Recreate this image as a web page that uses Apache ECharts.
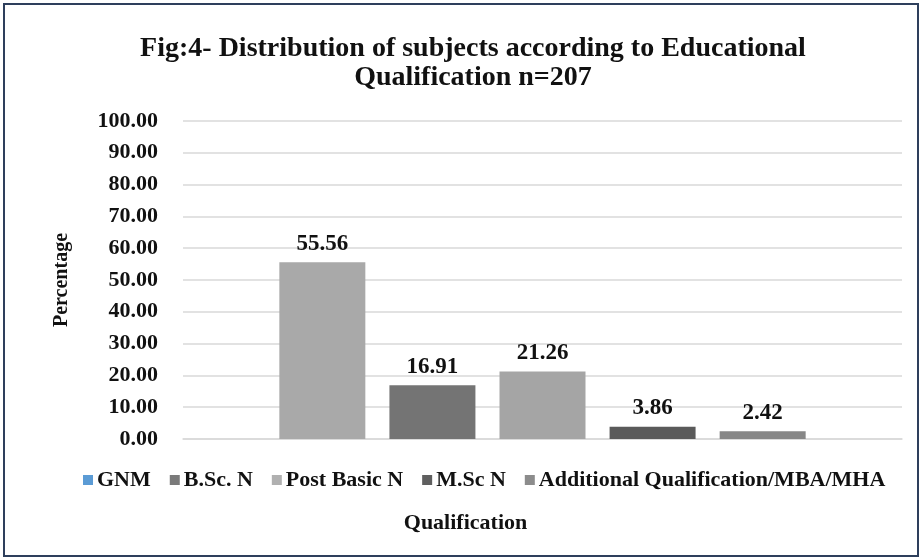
<!DOCTYPE html>
<html>
<head>
<meta charset="utf-8">
<script src="https://cdn.jsdelivr.net/npm/echarts@6/dist/echarts.min.js"></script>
<style>
  html, body { margin: 0; padding: 0; background: #fff; }
  #chart { width: 923px; height: 558px; }
</style>
</head>
<body>
<div id="chart"></div>
<script>
// data
var qualifications = ['GNM', 'B.Sc. N', 'Post Basic N', 'M.Sc N', 'Additional Qualification/MBA/MHA']
var percentages = [55.56, 16.91, 21.26, 3.86, 2.42]
var barColors = ['#a9a9a9', '#747474', '#a5a5a5', '#5a5a5a', '#878787']
var legendColors = ['#5b9bd5', '#7a7a7a', '#b0b0b0', '#5f5f5f', '#8c8c8c']
var yTicks = { min: 0, max: 100, interval: 10 }

var serif = '"Liberation Serif", "DejaVu Serif", serif'

var chart = echarts.init(document.getElementById('chart'))

var series = qualifications.map(function (name, i) {
  return {
    name: name,
    type: 'bar',
    data: [percentages[i]],
    barWidth: 86,
    barGap: '28%',
    itemStyle: { color: barColors[i] },
    label: {
      show: true,
      position: 'top',
      distance: 7,
      formatter: function (p) { return p.value.toFixed(2) },
      color: '#111',
      fontFamily: serif,
      fontWeight: 'bold',
      fontSize: 23
    }
  }
})

chart.setOption({
  animation: false,
  title: {
    text: 'Fig:4- Distribution of subjects according to Educational\nQualification n=207',
    left: 468,
    textAlign: 'center',
    top: 29,
    textStyle: {
      fontFamily: serif,
      fontWeight: 'bold',
      fontSize: 28,
      lineHeight: 29,
      color: '#111'
    }
  },
  legend: {
    data: qualifications.map(function (name, i) {
      return { name: name, itemStyle: { color: legendColors[i] } }
    }),
    top: 464,
    left: 78,
    itemWidth: 10,
    itemHeight: 10,
    itemGap: 19,
    icon: 'rect',
    textStyle: {
      fontFamily: serif,
      fontWeight: 'bold',
      fontSize: 22,
      color: '#111',
      padding: [0, 0, 0, -1]
    }
  },
  grid: { left: 183, right: 21, top: 121, bottom: 119 },
  xAxis: {
    type: 'category',
    data: [''],
    name: 'Qualification',
    nameLocation: 'middle',
    nameGap: 73,
    nameTextStyle: {
      fontFamily: serif, fontWeight: 'bold', fontSize: 22, color: '#111',
      padding: [0, 154, 0, 0]
    },
    axisLine: { lineStyle: { color: '#d9d9d9', width: 1.5 } },
    axisTick: { show: false },
    axisLabel: { show: false }
  },
  yAxis: {
    type: 'value',
    min: yTicks.min,
    max: yTicks.max,
    interval: yTicks.interval,
    name: 'Percentage',
    nameLocation: 'middle',
    nameGap: 111,
    nameRotate: 90,
    nameTextStyle: { fontFamily: serif, fontWeight: 'bold', fontSize: 20, color: '#111' },
    axisLabel: {
      margin: 25,
      formatter: function (v) { return v.toFixed(2) },
      fontFamily: serif,
      fontWeight: 'bold',
      fontSize: 22,
      color: '#111'
    },
    axisLine: { show: false },
    axisTick: { show: false },
    splitLine: { lineStyle: { color: '#d9d9d9', width: 1.5 } }
  },
  graphic: [{
    type: 'rect',
    shape: { x: 4, y: 4, width: 914, height: 552 },
    style: { fill: 'none', stroke: '#2e3f5c', lineWidth: 2 },
    silent: true
  }],
  series: series
})
</script>
</body>
</html>
